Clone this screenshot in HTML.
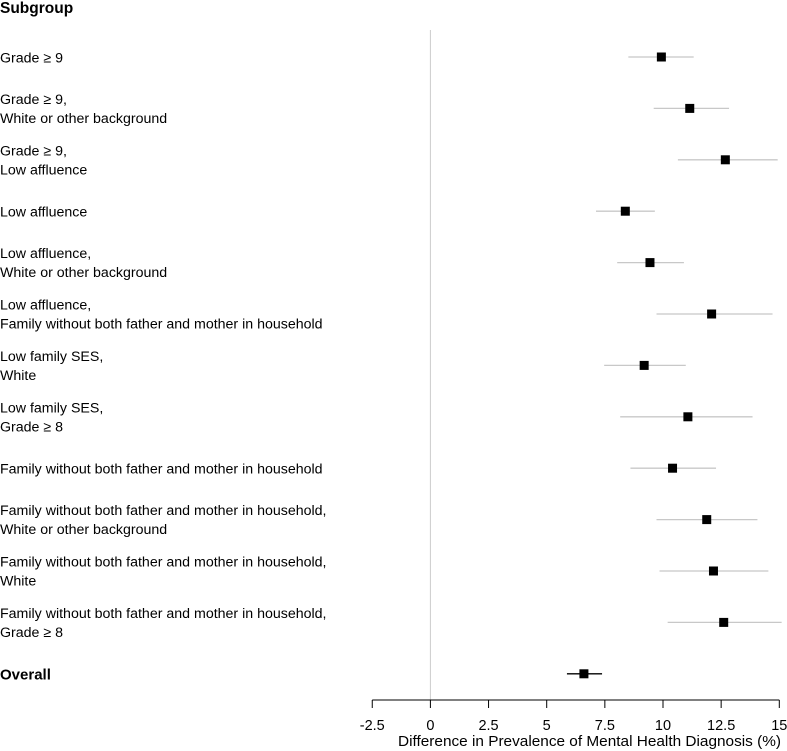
<!DOCTYPE html>
<html><head><meta charset="utf-8"><style>
html,body{margin:0;padding:0;background:#fff;}
svg{display:block;font-family:"Liberation Sans",Arial,sans-serif;}
</style></head><body>
<svg id="chart" width="787" height="751" viewBox="0 0 787 751"></svg>
<script>
const labels1=["Grade \u2265 9","Grade \u2265 9,","Grade \u2265 9,","Low affluence","Low affluence,","Low affluence,","Low family SES,","Low family SES,","Family without both father and mother in household","Family without both father and mother in household,","Family without both father and mother in household,","Family without both father and mother in household,","Overall"];
const labels2=["","White or other background","Low affluence","","White or other background","Family without both father and mother in household","White","Grade \u2265 8","","White or other background","White","Grade \u2265 8",""];
const estimates=[9.93,11.15,12.68,8.38,9.44,12.09,9.19,11.07,10.41,11.88,12.17,12.61,6.6];
const lower=[8.51,9.6,10.64,7.12,8.03,9.72,7.47,8.16,8.6,9.72,9.85,10.2,5.87];
const upper=[11.32,12.84,14.93,9.65,10.9,14.71,10.98,13.85,12.28,14.06,14.53,15.1,7.38];
const ticks=[-2.5,0,2.5,5,7.5,10,12.5,15];
const tickLabels=["-2.5","0","2.5","5","7.5","10","12.5","15"];

const svg=document.getElementById('chart');
const NS="http://www.w3.org/2000/svg";
const x=v=>430.4+v*23.26;
const rowY=i=>57+i*51.4;
function mk(tag,attrs,text){const e=document.createElementNS(NS,tag);for(const k in attrs)e.setAttribute(k,attrs[k]);if(text!==undefined)e.textContent=text;svg.appendChild(e);return e;}

let t=mk('text',{x:0,y:13,'font-size':15.5,'font-weight':'bold',fill:'#000'},'Subgroup');



let z=mk('line',{x1:x(0),x2:x(0),y1:30,y2:700,stroke:'#ccc','stroke-width':1});



for(let i=0;i<estimates.length;i++){
  const y=rowY(i);
  const overall=i===estimates.length-1;
  if(labels2[i]){
    const a=mk('text',{x:0,y:y-4.5,'font-size':14.2,fill:'#000'},labels1[i]);
    
    
    const b=mk('text',{x:0,y:y+14.5,'font-size':14.2,fill:'#000'},labels2[i]);
    
    
  } else {
    const a=mk('text',{x:0,y:y+5.5,'font-size':overall?15:14.2,fill:'#000','font-weight':overall?'bold':'normal'},labels1[i]);
    
    
  }
  const ci=mk('line',{x1:x(lower[i]),x2:x(upper[i]),y1:y,y2:y,stroke:overall?'#000':'#c8c8c8','stroke-width':1.3});
  
  
  const s=mk('rect',{x:x(estimates[i])-4.5,y:y-4.5,width:9,height:9,fill:'#000'});
  
  
}

let ax=mk('line',{x1:x(-2.5),x2:x(15),y1:700,y2:700,stroke:'#000','stroke-width':1});


ticks.forEach((v,i)=>{
  const tk=mk('line',{x1:x(v),x2:x(v),y1:700,y2:708,stroke:'#000','stroke-width':1});
  
  
  const tl=mk('text',{x:x(v),y:730,'font-size':14.5,'text-anchor':'middle',fill:'#000'},tickLabels[i]);
  
  
});
let xt=mk('text',{x:589.5,y:746,'font-size':14.5,'text-anchor':'middle',fill:'#000',textLength:383,lengthAdjust:'spacingAndGlyphs'},'Difference in Prevalence of Mental Health Diagnosis (%)');


</script>
</body></html>
